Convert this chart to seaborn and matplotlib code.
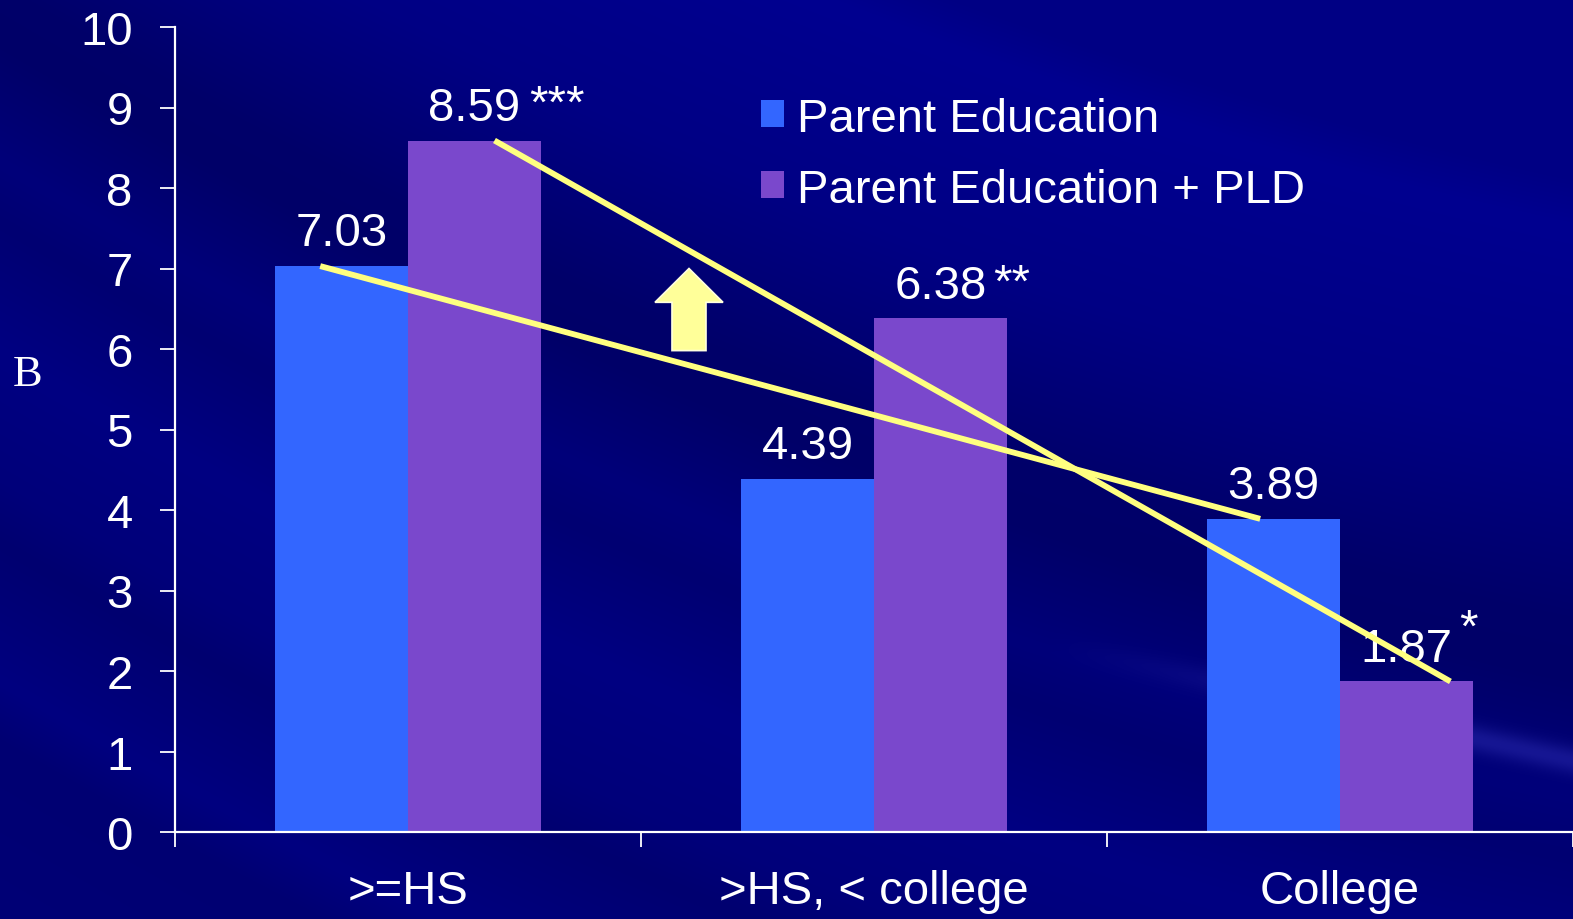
import numpy as np
import pandas as pd
import matplotlib
matplotlib.use("Agg")
import matplotlib.pyplot as plt
from matplotlib.patches import FancyArrow
import seaborn as sns

# ---- data -------------------------------------------------------------
categories = [">=HS", ">HS, < college", "College"]
series_names = ["Parent Education", "Parent Education + PLD"]
parent_edu = [7.03, 4.39, 3.89]
parent_edu_pld = [8.59, 6.38, 1.87]
pld_signif = ["***", "**", "*"]
y_ticks = list(range(0, 11))

# ---- style ------------------------------------------------------------
sns.set_style("ticks")
plt.rcParams["font.family"] = ["Liberation Sans", "DejaVu Sans"]
plt.rcParams["text.color"] = "white"

BLUE = "#3366FF"
PURPLE = "#7A48CC"
YELLOW = "#FFFF80"
FS = 34

W_PX, H_PX = 1573, 920
fig = plt.figure(figsize=(W_PX / 100, H_PX / 100), dpi=100)

# slide-style navy background with soft diagonal swooshes
yy, xx = np.mgrid[0:H_PX, 0:W_PX].astype(float)
u = yy - 0.40 * xx + 0.00012 * (xx - 800) ** 2
knots = [-900, -620, -560, -380, -330, -120, -60, 60, 120, 240, 300, 380, 430, 560, 620, 760, 820, 1000]
level = [142, 142, 132, 132, 144, 132, 124, 106, 104, 122, 114, 124, 130, 122, 112, 128, 114, 118]
blue_ch = np.interp(u, knots, level)
# lighter streak toward the lower right
v = yy - 0.22 * xx
streak = np.exp(-((v - 415) / 14.0) ** 2) * np.clip((xx - 1050) / 400, 0, 1)
blue_ch = blue_ch + 30 * streak
red_ch = 22 * streak
img = np.stack([red_ch, red_ch, blue_ch], axis=-1) / 255.0
bg = fig.add_axes([0, 0, 1, 1], zorder=-10)
bg.imshow(np.clip(img, 0, 1), aspect="auto", extent=[0, 1, 0, 1], interpolation="bilinear")
bg.axis("off")

ax = fig.add_axes([175 / W_PX, 1 - 833 / H_PX, 1 - 175 / W_PX, (833 - 28) / H_PX])
ax.set_facecolor("none")

df = pd.DataFrame({
    "Education": categories * 2,
    "Model": [series_names[0]] * 3 + [series_names[1]] * 3,
    "B": parent_edu + parent_edu_pld,
})

sns.barplot(data=df, x="Education", y="B", hue="Model", hue_order=series_names,
            palette=[BLUE, PURPLE], saturation=1, width=0.571, linewidth=0,
            ax=ax, zorder=2)

ax.set_xlim(-0.5, 2.5)
ax.set_ylim(0, 10)

# axes lines and ticks
for side in ["top", "right"]:
    ax.spines[side].set_visible(False)
for side in ["left", "bottom"]:
    ax.spines[side].set_color("white")
    ax.spines[side].set_linewidth(1.6)
    ax.spines[side].set_zorder(5)

ax.set_yticks(y_ticks)
ax.set_yticklabels([str(t) for t in y_ticks])
ax.tick_params(axis="y", colors="white", labelsize=FS, length=10.5, width=1.3,
               direction="out", pad=20)

ax.set_xticks([-0.5, 0.5, 1.5, 2.5])
ax.set_xticklabels([])
ax.set_xticks([0, 1, 2], minor=True)
ax.set_xticklabels(categories, minor=True)
ax.tick_params(axis="x", which="major", colors="white", length=11, width=1.3, direction="out")
ax.tick_params(axis="x", which="minor", colors="white", labelsize=FS, length=0, pad=27)

ax.set_xlabel("")
ax.set_ylabel("B", rotation=0, family=["Liberation Serif", "DejaVu Serif"],
              fontsize=32, color="white", ha="center", va="center")
ax.yaxis.set_label_coords((28 - 175) / (W_PX - 175), (833 - 375) / (833 - 28))

# legend
handles, labels = ax.get_legend_handles_labels()
ax.legend(handles, labels, loc="upper left",
          bbox_to_anchor=(737 / W_PX, 1 - 74 / H_PX), bbox_transform=fig.transFigure,
          frameon=False, fontsize=FS, borderpad=0, handlelength=0.5, handleheight=0.5,
          handletextpad=0.27, labelspacing=0.57, labelcolor="white")

# value labels with significance marks
blue_bars = ax.containers[0]
purple_bars = ax.containers[1]
for bar in blue_bars:
    xc = bar.get_x() + bar.get_width() / 2
    ax.annotate(f"{bar.get_height():.2f}", xy=(xc, bar.get_height()), xytext=(0, 15),
                textcoords="offset points", ha="center", va="baseline",
                fontsize=FS, color="white", zorder=6)

star_shift = [(6, 2), (5, 1), (5, 14)]
for bar, sig, (dx, dy) in zip(purple_bars, pld_signif, star_shift):
    xc = bar.get_x() + bar.get_width() / 2
    num = ax.annotate(f"{bar.get_height():.2f}", xy=(xc, bar.get_height()), xytext=(0, 15),
                      textcoords="offset points", ha="center", va="baseline",
                      fontsize=FS, color="white", zorder=6)
    ax.annotate(sig, xy=(1, 0), xycoords=num, xytext=(dx, dy), textcoords="offset points",
                ha="left", va="bottom", fontsize=FS, color="white", zorder=6)

# trend lines across the education groups
b0, b2 = blue_bars[0], blue_bars[-1]
p0, p2 = purple_bars[0], purple_bars[-1]
ax.plot([b0.get_x() + 0.34 * b0.get_width(), b2.get_x() + 0.40 * b2.get_width()],
        [b0.get_height(), b2.get_height()], color=YELLOW, lw=4.2, zorder=7,
        solid_capstyle="butt")
ax.plot([p0.get_x() + 0.65 * p0.get_width(), p2.get_x() + 0.83 * p2.get_width()],
        [p0.get_height(), p2.get_height()], color=YELLOW, lw=4.2, zorder=7,
        solid_capstyle="butt")

# upward arrow between the first two groups
ax.add_patch(FancyArrow(0.603, 5.98, 0, 1.02, width=0.073, head_width=0.146,
                        head_length=0.42, length_includes_head=True,
                        facecolor="#FFFF99", edgecolor="#FFFFE0", linewidth=1.2, zorder=7))

fig.savefig("out.png", dpi=100, facecolor="#000080")
